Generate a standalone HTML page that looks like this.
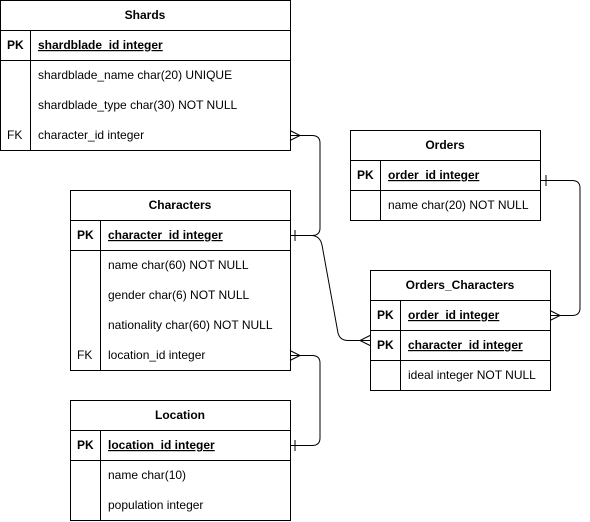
<!DOCTYPE html>
<html><head><meta charset="utf-8"><style>
html,body{margin:0;padding:0;background:#fff;}
svg{display:block;font-family:"Liberation Sans",Arial,sans-serif;font-size:12px;}
</style></head><body>
<svg width="590" height="522" viewBox="0 0 590 522" xmlns="http://www.w3.org/2000/svg">
<g fill="none" stroke="#000" stroke-width="1">
<rect x="0.5" y="0.5" width="290" height="150"/>
<line x1="0" y1="30.5" x2="290" y2="30.5"/>
<line x1="0" y1="60.5" x2="290" y2="60.5"/>
<line x1="30.5" y1="30" x2="30.5" y2="150"/>
<rect x="70.5" y="190.5" width="220" height="180"/>
<line x1="70" y1="220.5" x2="290" y2="220.5"/>
<line x1="70" y1="250.5" x2="290" y2="250.5"/>
<line x1="100.5" y1="220" x2="100.5" y2="370"/>
<rect x="70.5" y="400.5" width="220" height="120"/>
<line x1="70" y1="430.5" x2="290" y2="430.5"/>
<line x1="70" y1="460.5" x2="290" y2="460.5"/>
<line x1="100.5" y1="430" x2="100.5" y2="520"/>
<rect x="350.5" y="130.5" width="190" height="90"/>
<line x1="350" y1="160.5" x2="540" y2="160.5"/>
<line x1="350" y1="190.5" x2="540" y2="190.5"/>
<line x1="380.5" y1="160" x2="380.5" y2="220"/>
<rect x="370.5" y="270.5" width="180" height="120"/>
<line x1="370" y1="300.5" x2="550" y2="300.5"/>
<line x1="370" y1="330.5" x2="550" y2="330.5"/>
<line x1="370" y1="360.5" x2="550" y2="360.5"/>
<line x1="400.5" y1="300" x2="400.5" y2="390"/>
<path d="M290.5 135.5 H312 Q320 135.5 320 143 V228 Q320 235.5 312 235.5 H290.5"/>
<path d="M290 130.5 L300 135.5 L290 140.5"/>
<path d="M295 230 V241"/>
<path d="M312 235.5 Q320 236 322 245 L338 333 Q340 340.5 348 340.5 H370"/>
<path d="M370 335.5 L360 340.5 L370 345.5"/>
<path d="M540.5 180.5 H572 Q580 180.5 580 188 V308 Q580 315.5 572 315.5 H550.5"/>
<path d="M546 175 V186"/>
<path d="M550 310.5 L560 315.5 L550 320.5"/>
<path d="M290.5 355.5 H312 Q320 355.5 320 363 V438 Q320 445.5 312 445.5 H290.5"/>
<path d="M290 350.5 L300 355.5 L290 360.5"/>
<path d="M295 440 V451"/>
</g>
<g fill="#000" transform="translate(0,-1)">
<text x="145" y="20" text-anchor="middle" font-weight="bold">Shards</text>
<text x="7" y="50" font-weight="bold">PK</text>
<text x="38" y="50" font-weight="bold" text-decoration="underline">shardblade_id integer</text>
<text x="38" y="80">shardblade_name char(20) UNIQUE</text>
<text x="38" y="110">shardblade_type char(30) NOT NULL</text>
<text x="7" y="140">FK</text>
<text x="38" y="140">character_id integer</text>
<text x="180" y="210" text-anchor="middle" font-weight="bold">Characters</text>
<text x="77" y="240" font-weight="bold">PK</text>
<text x="108" y="240" font-weight="bold" text-decoration="underline">character_id integer</text>
<text x="108" y="270">name char(60) NOT NULL</text>
<text x="108" y="300">gender char(6) NOT NULL</text>
<text x="108" y="330">nationality char(60) NOT NULL</text>
<text x="77" y="360">FK</text>
<text x="108" y="360">location_id integer</text>
<text x="180" y="420" text-anchor="middle" font-weight="bold">Location</text>
<text x="77" y="450" font-weight="bold">PK</text>
<text x="108" y="450" font-weight="bold" text-decoration="underline">location_id integer</text>
<text x="108" y="480">name char(10)</text>
<text x="108" y="510">population integer</text>
<text x="445" y="150" text-anchor="middle" font-weight="bold">Orders</text>
<text x="357" y="180" font-weight="bold">PK</text>
<text x="388" y="180" font-weight="bold" text-decoration="underline">order_id integer</text>
<text x="388" y="210">name char(20) NOT NULL</text>
<text x="460" y="290" text-anchor="middle" font-weight="bold">Orders_Characters</text>
<text x="377" y="320" font-weight="bold">PK</text>
<text x="408" y="320" font-weight="bold" text-decoration="underline">order_id integer</text>
<text x="377" y="350" font-weight="bold">PK</text>
<text x="408" y="350" font-weight="bold" text-decoration="underline">character_id integer</text>
<text x="408" y="380">ideal integer NOT NULL</text>
</g>
</svg>
</body></html>
